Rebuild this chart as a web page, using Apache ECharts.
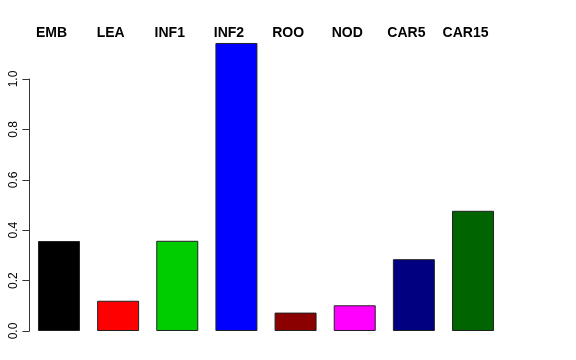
<!DOCTYPE html>
<html><head><meta charset="utf-8">
<script src="https://cdn.jsdelivr.net/npm/echarts@6/dist/echarts.min.js"></script>
<style>html,body{margin:0;padding:0;background:#fff}#c{width:576px;height:360px}</style>
</head><body><div id="c"></div>
<script>
var categories = ["EMB", "LEA", "INF1", "INF2", "ROO", "NOD", "CAR5", "CAR15"];
var values = [0.357, 0.120, 0.358, 1.143, 0.073, 0.102, 0.285, 0.477];
var colors = ["#000000", "#FF0000", "#00CD00", "#0000FF", "#8B0000", "#FF00FF", "#000080", "#006400"];
var yTicks = [0, 0.2, 0.4, 0.6, 0.8, 1.0];

var chart = echarts.init(document.getElementById('c'), null, {renderer: 'canvas'});
chart.setOption({
  animation: false,
  backgroundColor: '#fff',
  grid: {left: 29.4, right: 73.4, top: 79, bottom: 29, containLabel: false},
  xAxis: {
    type: 'category', position: 'top', data: categories,
    axisLine: {show: false}, axisTick: {show: false},
    axisLabel: {margin: 39, fontFamily: 'Liberation Sans', fontWeight: 'bold', fontSize: 14, color: '#000', padding: [0, 15, 0, 0], interval: 0}
  },
  yAxis: {
    type: 'value', min: yTicks[0], max: yTicks[yTicks.length - 1], interval: 0.2,
    splitLine: {show: false},
    axisLine: {show: true, lineStyle: {color: '#333', width: 1}},
    axisTick: {show: true, length: 7, lineStyle: {color: '#333'}},
    axisLabel: {rotate: 90, margin: 10, fontFamily: 'Liberation Sans', fontSize: 12, color: '#000',
      formatter: function (v) { return v.toFixed(1); }}
  },
  series: [{
    type: 'bar', clip: false, barCategoryGap: '29%',
    data: values.map(function (v, i) {
      return {value: v, itemStyle: {color: colors[i]}};
    }),
    itemStyle: {borderColor: '#222', borderWidth: 1}
  }]
});
</script></body></html>
